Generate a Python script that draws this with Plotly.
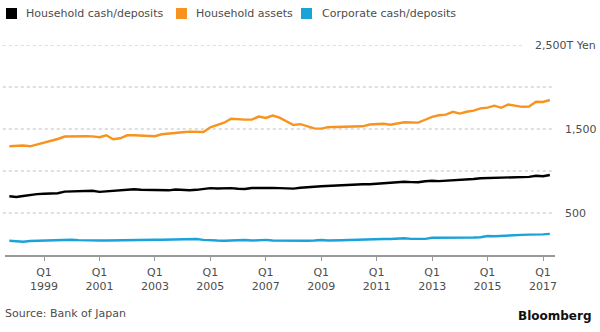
import pandas as pd
import plotly.graph_objects as go

# Quarterly observations, Q4 1997 through Q2 2017 (trillion yen)
quarters = pd.date_range("1997-10-01", periods=79, freq="QS")

household_assets = [
    1294, 1302, 1304, 1294, 1315, 1340, 1365, 1381, 1410, 1413,
    1413, 1413, 1412, 1402, 1425, 1378, 1390, 1425, 1425, 1422,
    1418, 1414, 1437, 1448, 1458, 1462, 1469, 1468, 1465, 1520,
    1550, 1575, 1622, 1614, 1612, 1612, 1648, 1632, 1660, 1635,
    1595, 1548, 1558, 1532, 1508, 1505, 1522, 1524, 1526, 1535,
    1532, 1532, 1553, 1556, 1563, 1550, 1562, 1580, 1578, 1576,
    1610, 1645, 1663, 1671, 1705, 1684, 1705, 1719, 1745, 1755,
    1778, 1752, 1792, 1775, 1764, 1768, 1825, 1822, 1845,
]

household_cash = [
    700, 690, 702, 715, 725, 730, 733, 736, 755, 758,
    760, 758, 764, 752, 758, 762, 770, 776, 782, 776,
    776, 778, 775, 770, 780, 774, 770, 776, 784, 796,
    792, 796, 796, 788, 785, 798, 800, 795, 798, 796,
    792, 790, 800, 810, 812, 818, 822, 834, 832, 834,
    840, 842, 842, 848, 856, 860, 864, 872, 868, 866,
    878, 884, 880, 884, 889, 894, 899, 905, 914, 916,
    913, 916, 921, 923, 925, 930, 944, 937, 952,
]

corporate_cash = [
    170, 162, 158, 166, 170, 172, 173, 175, 180, 182,
    177, 173, 173, 173, 173, 175, 180, 182, 178, 180,
    182, 182, 182, 184, 182, 188, 184, 190, 180, 173,
    172, 170, 175, 180, 178, 172, 175, 180, 172, 170,
    170, 170, 170, 170, 172, 178, 172, 170, 175, 178,
    182, 186, 188, 190, 190, 190, 194, 200, 192, 196,
    192, 205, 205, 203, 208, 200, 206, 208, 212, 226,
    224, 230, 232, 234, 240, 242, 242, 245, 252,
]

series_names = ["Household cash/deposits", "Household assets", "Corporate cash/deposits"]
series_colors = ["#000000", "#f7931e", "#1aa3d9"]

tick_dates = ["1999-01-01", "2001-01-01", "2003-01-01", "2005-01-01", "2007-01-01",
              "2009-01-01", "2011-01-01", "2013-01-01", "2015-01-01", "2017-01-01"]
tick_text = ["Q1<br>" + d[:4] for d in tick_dates]

grid_values = [500, 1000, 1500, 2000, 2500]
grid_labels = ["500", "", "1,500", "", "2,500T Yen"]

FONT = "DejaVu Sans"
TEXT = "#4d4d4d"

fig = go.Figure()
for name, vals, col in zip(series_names,
                           [household_cash, household_assets, corporate_cash],
                           series_colors):
    fig.add_trace(go.Scatter(x=quarters, y=vals, mode="lines", name=name,
                             line=dict(color=col, width=2.4), showlegend=False))

shapes = []
annotations = []

# dotted horizontal gridlines with right-side labels
for v, lab in zip(grid_values, grid_labels):
    top = lab.endswith("Yen")
    shapes.append(dict(type="line", xref="paper", yref="y", x0=-0.004,
                       x1=0.942 if top else 1.0, y0=v, y1=v,
                       line=dict(color="#bdbdbd", width=1, dash="dot"), layer="below"))
    if lab:
        annotations.append(dict(xref="paper", yref="y", x=0.96 if top else 1.0145, y=v,
                                text=lab, showarrow=False, xanchor="left", yanchor="middle",
                                font=dict(family=FONT, size=11, color=TEXT)))

# legend: colour squares with labels
legend_x = [(0.0018, 0.0218, 0.0345), (0.3109, 0.3309, 0.3436), (0.5382, 0.5582, 0.5727)]
for (x0, x1, xt), name, col in zip(legend_x, series_names, series_colors):
    shapes.append(dict(type="rect", xref="paper", yref="paper", x0=x0, x1=x1,
                       y0=1.1238, y1=1.1762, fillcolor=col, line=dict(width=0)))
    annotations.append(dict(xref="paper", yref="paper", x=xt, y=1.15, text=name,
                            showarrow=False, xanchor="left", yanchor="middle",
                            font=dict(family=FONT, size=11, color=TEXT)))

annotations.append(dict(xref="paper", yref="paper", x=-0.004, y=-0.28,
                        text="Source: Bank of Japan", showarrow=False,
                        xanchor="left", yanchor="middle",
                        font=dict(family=FONT, size=11, color=TEXT)))
annotations.append(dict(xref="paper", yref="paper", x=1.07, y=-0.29,
                        text="<b>Bloomberg</b>", showarrow=False,
                        xanchor="right", yanchor="middle",
                        font=dict(family=FONT, size=12, color="#111111")))

fig.update_layout(
    width=600, height=332,
    margin=dict(l=5, r=45, t=45, b=77),
    paper_bgcolor="white", plot_bgcolor="white",
    shapes=shapes, annotations=annotations,
    xaxis=dict(range=["1997-08-05", "2017-06-08"], tickvals=tick_dates, ticktext=tick_text,
               showgrid=False, zeroline=False, showline=True, linecolor="#999999",
               linewidth=1.5, ticks="outside", ticklen=4, tickcolor="#999999",
               ticklabelstandoff=2,
               tickfont=dict(family=FONT, size=11, color=TEXT)),
    yaxis=dict(range=[0, 2500], visible=False),
)

fig.write_html("out.html")
